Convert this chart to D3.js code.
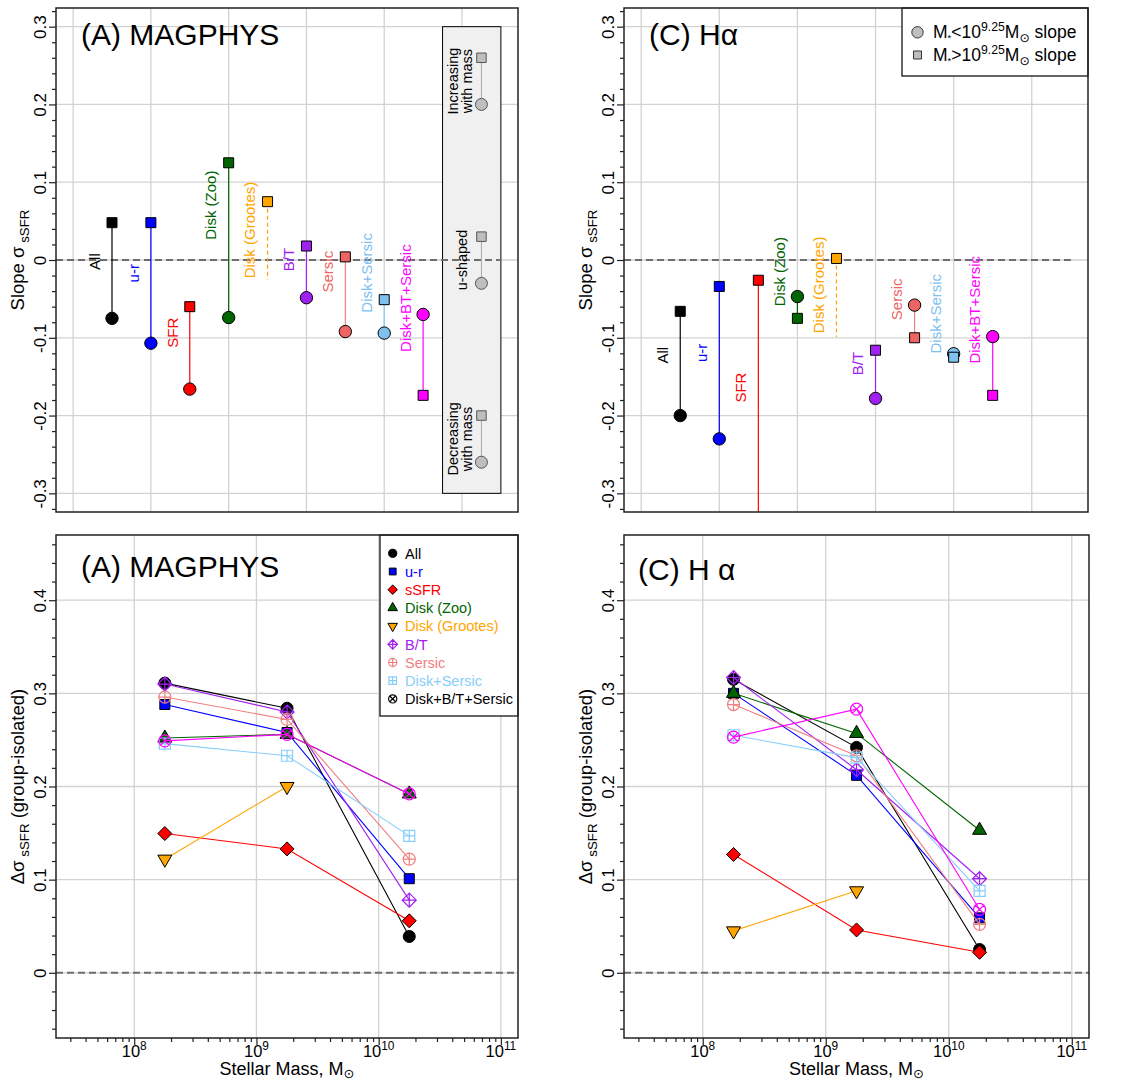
<!DOCTYPE html>
<html>
<head>
<meta charset="utf-8">
<script src="https://cdn.jsdelivr.net/npm/d3@7"></script>
<style>
  body { margin: 0; background: #fff; }
  svg { display: block; }
  text { font-family: "Liberation Sans", "DejaVu Sans", Arial, sans-serif; }
</style>
</head>
<body>
<svg id="fig" width="1136" height="1084"></svg>
<script>
// ---------- Slope panels (top row) ----------
const categories = ["All", "u-r", "SFR", "Disk (Zoo)", "Disk (Grootes)", "B/T", "Sersic", "Disk+Sersic", "Disk+BT+Sersic"];
const categoryColors = ["#000000", "#0000FF", "#FF0000", "#006400", "#FFA500", "#A020F0", "#EE6363", "#7EC0EE", "#FF00FF"];
const slopeLineColors = ["#000000", "#0000FF", "#FF0000", "#006400", "#FFA500", "#A020F0", "#F08080", "#87CEFA", "#FF00FF"];

// slope below / above 10^9.25 Msun (null = not measured)
const magphysSlopeLow  = [-0.075, -0.107, -0.166, -0.074, null, -0.0485, -0.092, -0.094, -0.070];
const magphysSlopeHigh = [ 0.048,  0.048, -0.060,  0.125, 0.075, 0.018,  0.004, -0.051, -0.174];
const hAlphaSlopeLow   = [-0.200, -0.230, -0.420, -0.047, null, -0.178, -0.058, -0.1205, -0.0985];
const hAlphaSlopeHigh  = [-0.066, -0.034, -0.026, -0.075, 0.002, -0.116, -0.100, -0.125, -0.174];
// dashed range drawn below the Grootes disk point
const magphysGrootesDashEnd = -0.025;
const hAlphaGrootesDashEnd = -0.099;
// vertical centre of each category label (slope units)
const magphysLabelY = [-0.002, -0.017, -0.0935, 0.0705, 0.0386, 0.0007, -0.015, -0.0165, -0.049];
const hAlphaLabelY  = [-0.1225, -0.1195, -0.164, -0.015, -0.032, -0.133, -0.0506, -0.069, -0.064];

// shape key inside the MAGPHYS slope panel
const keyText = [["Increasing", "with mass"], ["u-shaped"], ["Decreasing", "with mass"]];
const keyHigh = [0.26, 0.03, -0.20];
const keyLow  = [0.20, -0.03, -0.26];

const slopeTicks = [-0.3, -0.2, -0.1, 0, 0.1, 0.2, 0.3];
const slopeMinorTicks = d3.range(-16, 17).map(k => k * 0.02).filter(v => Math.abs(Math.round(v * 100) % 10) !== 0);
const slopeGridX = [0, 2, 4, 6, 8, 10];

// ---------- Delta sigma panels (bottom row) ----------
const massBins = [1.78e8, 1.78e9, 1.78e10];
const seriesNames = ["All", "u-r", "sSFR", "Disk (Zoo)", "Disk (Grootes)", "B/T", "Sersic", "Disk+Sersic", "Disk+B/T+Sersic"];
const seriesColors = ["#000000", "#0000FF", "#FF0000", "#006400", "#FFA500", "#A020F0", "#F08080", "#87CEFA", "#FF00FF"];
const seriesKeyColors = ["#000000", "#0000FF", "#FF0000", "#006400", "#FFA500", "#A020F0", "#F08080", "#87CEFA", "#000000"];
const seriesMarkers = ["circle", "square", "diamond", "triUp", "triDown", "diamondPlus", "circlePlus", "squarePlus", "circleX"];

const magphysDelta = [
  [0.311, 0.284, 0.039],
  [0.288, 0.258, 0.101],
  [0.1495, 0.133, 0.0558],
  [0.252, 0.256, 0.192],
  [0.122, 0.200, null],
  [0.310, 0.280, 0.078],
  [0.296, 0.272, 0.122],
  [0.246, 0.233, 0.147],
  [0.249, 0.256, 0.192]
];
const hAlphaDelta = [
  [0.315, 0.242, 0.025],
  [0.300, 0.212, 0.059],
  [0.127, 0.046, 0.022],
  [0.300, 0.257, 0.153],
  [0.045, 0.088, null],
  [0.317, 0.218, 0.101],
  [0.288, 0.233, 0.052],
  [0.255, 0.231, 0.088],
  [0.253, 0.283, 0.068]
];

const deltaTicks = [0, 0.1, 0.2, 0.3, 0.4];
const deltaMinorTicks = d3.range(-3, 24).map(k => k * 0.02).filter(v => Math.abs(Math.round(v * 100) % 10) !== 0);
const massTicks = [1e8, 1e9, 1e10, 1e11];
const massTickExp = ["8", "9", "10", "11"];
const massMinorTicks = [1e7, 1e8, 1e9, 1e10].flatMap(d => d3.range(2, 10).map(m => m * d))
  .filter(v => v > 10 ** 7.36 && v < 10 ** 11.14);

// ---------- helpers ----------
const svg = d3.select("#fig");
const GRID = "#D2D2D2";
const INK = "#222222";

function rich(sel, parts, base) {
  let prev = 0;
  parts.forEach(([t, sc, sh]) => {
    sel.append("tspan")
      .attr("font-size", base * sc)
      .attr("dy", -(sh - prev) * base)
      .text(t);
    prev = sh;
  });
  return sel;
}

function markerPath(type, s) {
  const circ = r => `M${r},0A${r},${r} 0 1 1 ${-r},0A${r},${r} 0 1 1 ${r},0Z`;
  const sq = h => `M${-h},${-h}H${h}V${h}H${-h}Z`;
  const dia = d => `M0,${-d}L${d},0L0,${d}L${-d},0Z`;
  switch (type) {
    case "circle": return circ(6 * s);
    case "square": return sq(5 * s);
    case "diamond": return dia(7 * s);
    case "triUp": {
      const t = 5.2 * s, r = 1.555 * t, w = 1.347 * t;
      return `M0,${-r}L${w},${r / 2}L${-w},${r / 2}Z`;
    }
    case "triDown": {
      const t = 5.2 * s, r = 1.555 * t, w = 1.347 * t;
      return `M0,${r}L${w},${-r / 2}L${-w},${-r / 2}Z`;
    }
    case "diamondPlus": { const d = 7 * s; return dia(d) + `M0,${-d}V${d}M${-d},0H${d}`; }
    case "circlePlus": { const r = 6 * s; return circ(r) + `M0,${-r}V${r}M${-r},0H${r}`; }
    case "squarePlus": { const h = 5.5 * s; return sq(h) + `M0,${-h}V${h}M${-h},0H${h}`; }
    case "circleX": { const r = 6 * s, a = r * 0.7071; return circ(r) + `M${-a},${-a}L${a},${a}M${-a},${a}L${a},${-a}`; }
  }
}
const openMarkers = new Set(["diamondPlus", "circlePlus", "squarePlus", "circleX"]);

function drawMarker(g, type, cx, cy, color, s, edge) {
  const p = g.append("path")
    .attr("d", markerPath(type, s))
    .attr("transform", `translate(${cx},${cy})`);
  if (openMarkers.has(type)) {
    p.attr("fill", "none").attr("stroke", color).attr("stroke-width", 1.2);
  } else {
    p.attr("fill", color).attr("stroke", edge || "#000").attr("stroke-width", 1);
  }
}

function clipFor(id, box) {
  svg.append("clipPath").attr("id", id)
    .append("rect").attr("x", box.l).attr("y", box.t)
    .attr("width", box.r - box.l).attr("height", box.b - box.t);
  return `url(#${id})`;
}

function leftAxis(box, y, majors, minors, fmt) {
  const gMinor = svg.append("g").attr("transform", `translate(${box.l},0)`)
    .call(d3.axisLeft(y).tickValues(minors).tickSize(4).tickFormat(""));
  const gMajor = svg.append("g").attr("transform", `translate(${box.l},0)`)
    .call(d3.axisLeft(y).tickValues(majors).tickSize(7).tickFormat(fmt));
  [gMinor, gMajor].forEach(a => {
    a.select(".domain").remove();
    a.selectAll("line").attr("stroke", INK).attr("stroke-width", 1.2);
  });
  gMajor.selectAll("text")
    .attr("x", 0).attr("y", -10).attr("dy", 0)
    .attr("transform", "rotate(-90)")
    .attr("text-anchor", "middle")
    .attr("font-size", 17)
    .attr("font-family", null)
    .attr("fill", "#000");
}

function yTitle(box, parts) {
  const cx = box.l - 32, cy = (box.t + box.b) / 2;
  const t = svg.append("text")
    .attr("x", cx).attr("y", cy)
    .attr("transform", `rotate(-90,${cx},${cy})`)
    .attr("text-anchor", "middle");
  rich(t, parts, 18.5);
}

function frame(box) {
  svg.append("rect").attr("x", box.l).attr("y", box.t)
    .attr("width", box.r - box.l).attr("height", box.b - box.t)
    .attr("fill", "none").attr("stroke", INK).attr("stroke-width", 1.5);
}

// ---------- slope panel ----------
function drawSlopePanel(id, box, low, high, dashEnd, labelY, title, withKey, withLegend) {
  const x = d3.scaleLinear().domain([-0.44, 11.44]).range([box.l, box.r]);
  const y = d3.scaleLinear().domain([-0.324, 0.324]).range([box.b, box.t]);
  const g = svg.append("g").attr("clip-path", clipFor(id, box));

  g.selectAll(null).data(slopeTicks).join("line")
    .attr("x1", box.l).attr("x2", box.r)
    .attr("y1", d => y(d)).attr("y2", d => y(d))
    .attr("stroke", GRID).attr("stroke-width", 1.3);
  g.selectAll(null).data(slopeGridX).join("line")
    .attr("x1", d => x(d)).attr("x2", d => x(d))
    .attr("y1", box.t).attr("y2", box.b)
    .attr("stroke", GRID).attr("stroke-width", 1.3);

  if (withKey) {
    g.append("rect")
      .attr("x", x(9.5)).attr("y", y(0.3))
      .attr("width", x(11) - x(9.5)).attr("height", y(-0.3) - y(0.3))
      .attr("fill", "#F0F0F0").attr("stroke", "#000").attr("stroke-width", 1);
  }

  g.append("line")
    .attr("x1", x(-0.44)).attr("x2", x(11))
    .attr("y1", y(0)).attr("y2", y(0))
    .attr("stroke", "#6E6E6E").attr("stroke-width", 2).attr("stroke-dasharray", "7,4");

  if (withKey) {
    const kx = x(10.5);
    keyText.forEach((lines, k) => {
      g.append("line").attr("x1", kx).attr("x2", kx)
        .attr("y1", y(keyHigh[k])).attr("y2", y(keyLow[k]))
        .attr("stroke", "#A8A8A8").attr("stroke-width", 1);
      drawMarker(g, "circle", kx, y(keyLow[k]), "#BEBEBE", 1.0, "#555");
      drawMarker(g, "square", kx, y(keyHigh[k]), "#BEBEBE", 0.95, "#555");
      const cy = y((keyHigh[k] + keyLow[k]) / 2);
      const offs = lines.length === 2 ? [-28.5, -14.5] : [-20];
      lines.forEach((txt, j) => {
        const cx = kx + offs[j];
        g.append("text").attr("x", cx).attr("y", cy).attr("dy", "0.35em")
          .attr("transform", `rotate(-90,${cx},${cy})`)
          .attr("text-anchor", "middle").attr("font-size", 14.5).attr("fill", "#000")
          .text(txt);
      });
    });
  }

  categories.forEach((name, i) => {
    const cx = x(i + 1);
    if (low[i] != null) {
      g.append("line").attr("x1", cx).attr("x2", cx)
        .attr("y1", y(high[i])).attr("y2", y(low[i]))
        .attr("stroke", slopeLineColors[i]).attr("stroke-width", 1.2);
    } else {
      g.append("line").attr("x1", cx).attr("x2", cx)
        .attr("y1", y(high[i])).attr("y2", y(dashEnd))
        .attr("stroke", slopeLineColors[i]).attr("stroke-width", 1.2)
        .attr("stroke-dasharray", "4,3");
    }
    if (low[i] != null) drawMarker(g, "circle", cx, y(low[i]), categoryColors[i], 1.03);
    drawMarker(g, "square", cx, y(high[i]), categoryColors[i], 1.0);

    const lx = x(i + 1 - 0.45), ly = y(labelY[i]);
    g.append("text").attr("x", lx).attr("y", ly).attr("dy", "0.35em")
      .attr("transform", `rotate(-90,${lx},${ly})`)
      .attr("text-anchor", "middle").attr("font-size", 15)
      .attr("fill", categoryColors[i]).text(name);
  });

  if (withLegend) {
    const lx0 = box.r - 186, ly0 = box.t, lw = 186, lh = 68;
    svg.append("rect").attr("x", lx0).attr("y", ly0).attr("width", lw).attr("height", lh)
      .attr("fill", "#fff").attr("stroke", "#000").attr("stroke-width", 1.2);
    const rows = [["circle", "<"], ["square", ">"]];
    rows.forEach(([shape, op], k) => {
      const cy = ly0 + 24.3 + k * 22.7;
      drawMarker(svg, shape, lx0 + 15.5, cy, "#BEBEBE", shape === "circle" ? 0.95 : 0.8, "#333");
      const t = svg.append("text").attr("x", lx0 + 31).attr("y", cy + 6).attr("fill", "#000");
      rich(t, [["M", 1, 0], ["*", 0.55, -0.15], [op + "10", 1, 0], ["9.25", 0.7, 0.42],
               ["M", 1, 0], ["\u2299", 0.7, -0.22], [" slope", 1, 0]], 17.5);
    });
  }

  leftAxis(box, y, slopeTicks, slopeMinorTicks, d => d === 0 ? "0" : d3.format(".1f")(d).replace("\u2212", "-"));
  yTitle(box, [["Slope ", 1, 0], ["\u03C3", 1, 0], ["  sSFR", 0.72, -0.28]]);
  frame(box);

  svg.append("text").attr("x", box.l + 25).attr("y", box.t + 37)
    .attr("font-size", 30).attr("fill", "#000").text(title);
}

// ---------- delta sigma panel ----------
function drawDeltaPanel(id, box, values, title, titleDx, titleDy, withLegend) {
  const x = d3.scaleLog().domain([10 ** 7.36, 10 ** 11.14]).range([box.l, box.r]);
  const y = d3.scaleLinear().domain([-0.07, 0.47]).range([box.b, box.t]);
  const g = svg.append("g").attr("clip-path", clipFor(id, box));

  g.selectAll(null).data(deltaTicks).join("line")
    .attr("x1", box.l).attr("x2", box.r)
    .attr("y1", d => y(d)).attr("y2", d => y(d))
    .attr("stroke", GRID).attr("stroke-width", 1.3);
  g.selectAll(null).data(massTicks).join("line")
    .attr("x1", d => x(d)).attr("x2", d => x(d))
    .attr("y1", box.t).attr("y2", box.b)
    .attr("stroke", GRID).attr("stroke-width", 1.3);

  g.append("line")
    .attr("x1", box.l).attr("x2", box.r)
    .attr("y1", y(0)).attr("y2", y(0))
    .attr("stroke", "#6E6E6E").attr("stroke-width", 2).attr("stroke-dasharray", "7,4");

  const line = d3.line().defined(d => d[1] != null).x(d => x(d[0])).y(d => y(d[1]));
  seriesNames.forEach((name, k) => {
    const pts = massBins.map((m, j) => [m, values[k][j]]);
    g.append("path").attr("d", line(pts)).attr("fill", "none")
      .attr("stroke", seriesColors[k]).attr("stroke-width", 1.1);
    pts.filter(p => p[1] != null)
      .forEach(p => drawMarker(g, seriesMarkers[k], x(p[0]), y(p[1]), seriesColors[k], 1));
  });

  if (withLegend) {
    const lx0 = box.r - 138, ly0 = box.t, lw = 138, lh = 181;
    svg.append("rect").attr("x", lx0).attr("y", ly0).attr("width", lw).attr("height", lh)
      .attr("fill", "#fff").attr("stroke", "#000").attr("stroke-width", 1.2);
    seriesNames.forEach((name, k) => {
      const cy = ly0 + 18.3 + k * 18.2;
      drawMarker(svg, seriesMarkers[k], lx0 + 12.7, cy, seriesKeyColors[k], 0.68);
      svg.append("text").attr("x", lx0 + 25).attr("y", cy + 5.3)
        .attr("font-size", 14.5).attr("fill", seriesKeyColors[k]).text(name);
    });
  }

  // x axis (log mass)
  const gMinor = svg.append("g").attr("transform", `translate(0,${box.b})`)
    .call(d3.axisBottom(x).tickValues(massMinorTicks).tickSize(4).tickFormat(""));
  const gMajor = svg.append("g").attr("transform", `translate(0,${box.b})`)
    .call(d3.axisBottom(x).tickValues(massTicks).tickSize(7).tickFormat(""));
  [gMinor, gMajor].forEach(a => {
    a.select(".domain").remove();
    a.selectAll("line").attr("stroke", INK).attr("stroke-width", 1.2);
  });
  massTicks.forEach((v, j) => {
    const t = svg.append("text").attr("x", x(v)).attr("y", box.b + 19)
      .attr("text-anchor", "middle").attr("fill", "#000");
    rich(t, [["10", 1, 0], [massTickExp[j], 0.72, 0.45]], 16.5);
  });
  const xl = svg.append("text").attr("x", (box.l + box.r) / 2).attr("y", box.b + 37)
    .attr("text-anchor", "middle").attr("fill", "#000");
  rich(xl, [["Stellar Mass, M", 1, 0], ["\u2299", 0.72, -0.15]], 18);

  leftAxis(box, y, deltaTicks, deltaMinorTicks, d => d === 0 ? "0" : d3.format(".1f")(d));
  yTitle(box, [["\u0394\u03C3", 1, 0], ["  sSFR", 0.72, -0.28], ["  (group-isolated)", 1, 0]]);
  frame(box);

  svg.append("text").attr("x", box.l + titleDx).attr("y", box.t + titleDy)
    .attr("font-size", 30).attr("fill", "#000").text(title);
}

drawSlopePanel("clipA", { l: 56, r: 518, t: 8, b: 512 }, magphysSlopeLow, magphysSlopeHigh,
  magphysGrootesDashEnd, magphysLabelY, "(A) MAGPHYS", true, false);
drawSlopePanel("clipC", { l: 624, r: 1088, t: 8, b: 512 }, hAlphaSlopeLow, hAlphaSlopeHigh,
  hAlphaGrootesDashEnd, hAlphaLabelY, "(C) H\u03B1", false, true);
drawDeltaPanel("clipA2", { l: 56, r: 518, t: 535, b: 1038 }, magphysDelta, "(A) MAGPHYS", 25, 42, true);
drawDeltaPanel("clipC2", { l: 624, r: 1089, t: 535, b: 1038 }, hAlphaDelta, "(C) H \u03B1", 14, 45, false);
</script>
</body>
</html>
